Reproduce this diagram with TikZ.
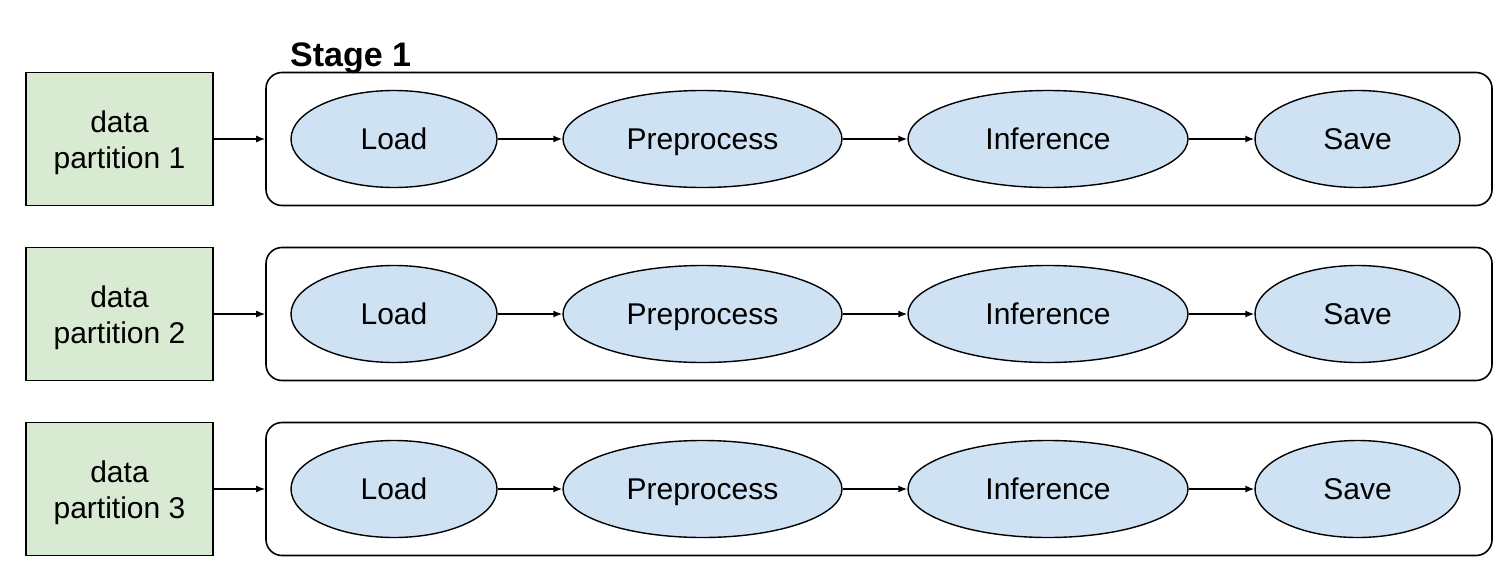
\documentclass[tikz,border=0pt]{standalone}
\usepackage{fontspec}
\setmainfont{Liberation Sans}
\usetikzlibrary{shapes.geometric,arrows.meta}
\definecolor{dgreen}{HTML}{D9EAD3}
\definecolor{dblue}{HTML}{CFE2F3}
\begin{document}
\begin{tikzpicture}[x=1pt,y=-1pt,
  databox/.style={draw=black,line width=1.6pt,fill=dgreen,minimum width=187pt,minimum height=133pt,inner sep=0pt},
  datatext/.style={align=center,inner sep=0pt,anchor=base,font=\fontsize{30}{36}\selectfont},
  stagebox/.style={draw=black,line width=1.6pt,rounded corners=16pt,minimum width=1226pt,minimum height=133pt,inner sep=0pt},
  stepell/.style={ellipse,draw=black,line width=1.4pt,fill=dblue,minimum height=97pt,inner sep=0pt,text height=21.5pt,text depth=0pt,font=\fontsize{30}{36}\selectfont},
  arr/.style={-{Latex[length=9pt,width=7pt]},line width=1.4pt}]
\useasboundingbox (0,0) rectangle (1511,583);
\node[anchor=base west,inner sep=0pt,font=\fontsize{34}{40}\selectfont\bfseries] (title) at (290,67) {Stage 1};
\foreach \i/\y in {1/139,2/314,3/489}{
  \node[databox] (d\i) at (119.5,\y) {};
  \node[datatext] (t\i) at (119.5,\y+29) {data\\partition \i};
  \node[stagebox] (s\i) at (879,\y) {};
  \node[stepell,minimum width=206pt] (l\i) at (394,\y) {Load};
  \node[stepell,minimum width=279pt] (p\i) at (702.5,\y) {Preprocess};
  \node[stepell,minimum width=280pt] (n\i) at (1048,\y) {Inference};
  \node[stepell,minimum width=205pt] (v\i) at (1357.5,\y) {Save};
  \draw[arr] (d\i) -- (s\i);
  \draw[arr] (l\i) -- (p\i);
  \draw[arr] (p\i) -- (n\i);
  \draw[arr] (n\i) -- (v\i);
}
\end{tikzpicture}
\end{document}
